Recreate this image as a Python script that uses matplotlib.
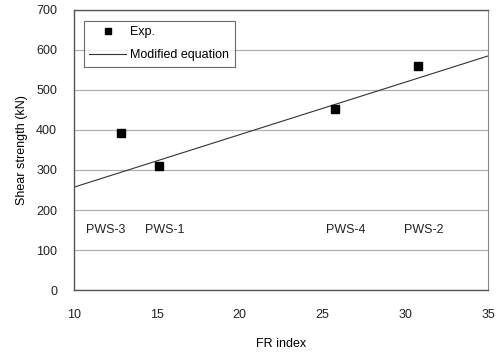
import matplotlib
matplotlib.use("Agg")
import matplotlib.pyplot as plt

plt.rcParams['font.family'] = ['Liberation Sans', 'DejaVu Sans']

fr_exp = [12.85, 15.15, 25.75, 30.75]
shear_exp = [393, 310, 452, 560]
fr_line = [10, 35]
shear_line = [257, 585]
spec_names = ["PWS-3", "PWS-1", "PWS-4", "PWS-2"]
spec_x = [11.9, 15.5, 26.4, 31.1]
spec_y = [150, 150, 150, 150]
x_ticks = [10, 15, 20, 25, 30, 35]
y_ticks = [0, 100, 200, 300, 400, 500, 600, 700]

fig = plt.figure(figsize=(4.99, 3.55), dpi=100)
ax = fig.add_axes([0.148, 0.183, 0.830, 0.789])

ax.set_xlim(10, 35)
ax.set_ylim(0, 700)
ax.set_xticks(x_ticks)
ax.set_yticks(y_ticks)
ax.grid(axis='y', color='#b0b0b0', linewidth=0.9)
ax.set_axisbelow(True)

ax.plot(fr_exp, shear_exp, 's', color='black', markersize=5.5, label='Exp.', zorder=3)
ax.plot(fr_line, shear_line, '-', color='#333333', linewidth=0.8, label='Modified equation', zorder=2)

for n, x, y in zip(spec_names, spec_x, spec_y):
    ax.text(x, y, n, ha='center', va='center', fontsize=9, color='#222222')

for s in ['left', 'bottom', 'top']:
    ax.spines[s].set_color('#555555')
    ax.spines[s].set_linewidth(1.0)
ax.spines['right'].set_color('#888888')

ax.tick_params(axis='both', length=0, labelsize=9, colors='#222222')
ax.tick_params(axis='x', pad=14)
ax.tick_params(axis='y', pad=12)

ax.set_xlabel('FR index', fontsize=9, labelpad=12)
ax.set_ylabel('Shear strength (kN)', fontsize=9, labelpad=6)

leg = ax.legend(loc='upper left', bbox_to_anchor=(0.024, 0.961), borderaxespad=0,
                fontsize=9, frameon=True, fancybox=False, edgecolor='#444444',
                handlelength=2.9, handletextpad=0.35, borderpad=0.45,
                labelspacing=0.85, markerscale=0.9)
leg.get_frame().set_linewidth(0.8)

fig.savefig('out.png', dpi=100)
